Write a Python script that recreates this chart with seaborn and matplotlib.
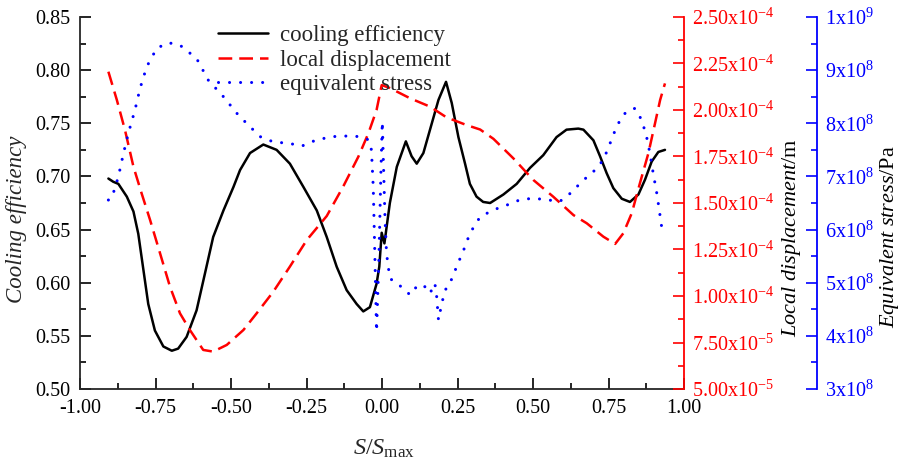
import numpy as np
import pandas as pd
import matplotlib
matplotlib.use("Agg")
import matplotlib.pyplot as plt
from matplotlib.ticker import MultipleLocator, FixedLocator, FixedFormatter
import seaborn as sns

# Normalised position along the surface, S/Smax
cool_s = [-0.906, -0.89, -0.873, -0.845, -0.823, -0.807, -0.79, -0.774, -0.752, -0.724,
          -0.696, -0.675, -0.647, -0.614, -0.586, -0.559, -0.525, -0.492, -0.47, -0.437,
          -0.393, -0.349, -0.305, -0.26, -0.216, -0.183, -0.15, -0.117, -0.084, -0.062,
          -0.04, -0.018, -0.009, -0.001, 0.008, 0.026, 0.049, 0.079, 0.098, 0.115,
          0.137, 0.165, 0.187, 0.212, 0.231, 0.253, 0.275, 0.291, 0.313, 0.335,
          0.358, 0.402, 0.446, 0.49, 0.534, 0.578, 0.611, 0.65, 0.667, 0.70,
          0.722, 0.744, 0.766, 0.794, 0.821, 0.849, 0.871, 0.893, 0.915, 0.937]
cooling_efficiency = [0.698, 0.695, 0.693, 0.681, 0.667, 0.646, 0.612, 0.580, 0.555, 0.540,
                      0.536, 0.538, 0.549, 0.574, 0.609, 0.643, 0.668, 0.690, 0.706, 0.722,
                      0.730, 0.725, 0.712, 0.690, 0.668, 0.643, 0.615, 0.593, 0.580, 0.573,
                      0.577, 0.599, 0.615, 0.647, 0.637, 0.675, 0.709, 0.733, 0.719, 0.712,
                      0.722, 0.750, 0.772, 0.789, 0.769, 0.737, 0.712, 0.693, 0.681, 0.676,
                      0.675, 0.683, 0.693, 0.708, 0.720, 0.737, 0.744, 0.745, 0.744, 0.734,
                      0.719, 0.703, 0.689, 0.679, 0.676, 0.683, 0.697, 0.714, 0.723, 0.725]

disp_s = [-0.906, -0.878, -0.851, -0.823, -0.796, -0.768, -0.735, -0.702, -0.669, -0.636,
          -0.592, -0.559, -0.514, -0.459, -0.415, -0.36, -0.305, -0.249, -0.183, -0.128,
          -0.078, -0.045, -0.018, -0.001, 0.026, 0.093, 0.159, 0.214, 0.28, 0.325,
          0.369, 0.435, 0.501, 0.567, 0.634, 0.678, 0.733, 0.772, 0.799, 0.827,
          0.854, 0.882, 0.904, 0.921, 0.937]
# local displacement in units of 1e-4 m
local_displacement_e4 = [2.206, 2.054, 1.892, 1.695, 1.552, 1.409, 1.230, 1.050, 0.907, 0.817,
                         0.710, 0.701, 0.737, 0.817, 0.907, 1.023, 1.158, 1.301, 1.43, 1.59,
                         1.75, 1.875, 2.0, 2.134, 2.118, 2.063, 2.018, 1.96, 1.919, 1.895,
                         1.845, 1.74, 1.624, 1.534, 1.435, 1.391, 1.319, 1.28, 1.337, 1.445,
                         1.606, 1.767, 1.928, 2.054, 2.143]

stress_s = [-0.906, -0.895, -0.873, -0.856, -0.84, -0.818, -0.801, -0.779, -0.746, -0.708,
            -0.669, -0.614, -0.575, -0.525, -0.481, -0.459, -0.404, -0.36, -0.305, -0.266,
            -0.216, -0.161, -0.117, -0.073, -0.045, -0.035, -0.029, -0.024, -0.018, -0.010,
            -0.004, 0.001, 0.005, 0.010, 0.015, 0.026, 0.049, 0.071, 0.093, 0.115,
            0.137, 0.159, 0.175, 0.181, 0.187, 0.198, 0.209, 0.225, 0.247, 0.275,
            0.291, 0.325, 0.369, 0.413, 0.457, 0.501, 0.545, 0.589, 0.623, 0.667,
            0.70, 0.733, 0.755, 0.777, 0.799, 0.821, 0.838, 0.86, 0.876, 0.887,
            0.898, 0.91, 0.918, 0.926, 0.931]
# equivalent stress in units of 1e8 Pa
equivalent_stress_e8 = [6.556, 6.588, 6.995, 7.435, 7.811, 8.25, 8.66, 9.065, 9.41, 9.517,
                        9.47, 9.22, 8.81, 8.50, 8.19, 8.06, 7.75, 7.65, 7.62, 7.57,
                        7.69, 7.75, 7.76, 7.75, 7.69, 7.50, 6.8, 5.6, 4.08, 5.5,
                        7.0, 8.03, 7.2, 6.2, 5.55, 5.08, 4.99, 4.89, 4.77, 4.93,
                        4.96, 4.80, 4.99, 4.74, 4.30, 4.61, 4.86, 4.99, 5.30, 5.68,
                        5.93, 6.24, 6.37, 6.46, 6.56, 6.59, 6.56, 6.53, 6.68, 6.93,
                        7.09, 7.31, 7.62, 7.94, 8.16, 8.26, 8.28, 8.06, 7.75, 7.44,
                        7.06, 6.68, 6.37, 6.05, 5.93]

x_ticks = [-1.0, -0.75, -0.5, -0.25, 0.0, 0.25, 0.5, 0.75, 1.0]
x_tick_labels = ["-1.00", "-0.75", "-0.50", "-0.25", "0.00", "0.25", "0.50", "0.75", "1.00"]
eff_ticks = [0.50, 0.55, 0.60, 0.65, 0.70, 0.75, 0.80, 0.85]
eff_tick_labels = ["0.50", "0.55", "0.60", "0.65", "0.70", "0.75", "0.80", "0.85"]
disp_ticks = [5.0e-5, 7.5e-5, 1.0e-4, 1.25e-4, 1.5e-4, 1.75e-4, 2.0e-4, 2.25e-4, 2.5e-4]
disp_tick_labels = [r"5.00x10$^{-5}$", r"7.50x10$^{-5}$", r"1.00x10$^{-4}$",
                    r"1.25x10$^{-4}$", r"1.50x10$^{-4}$", r"1.75x10$^{-4}$",
                    r"2.00x10$^{-4}$", r"2.25x10$^{-4}$", r"2.50x10$^{-4}$"]
stress_ticks = [3e8, 4e8, 5e8, 6e8, 7e8, 8e8, 9e8, 1e9]
stress_tick_labels = [r"3x10$^{8}$", r"4x10$^{8}$", r"5x10$^{8}$", r"6x10$^{8}$",
                      r"7x10$^{8}$", r"8x10$^{8}$", r"9x10$^{8}$", r"1x10$^{9}$"]

sns.set_style("ticks")
plt.rcParams["font.family"] = ["Liberation Serif", "DejaVu Serif"]
plt.rcParams["mathtext.fontset"] = "custom"
plt.rcParams["mathtext.rm"] = "Liberation Serif"
plt.rcParams["mathtext.it"] = "Liberation Serif:italic"
plt.rcParams["axes.unicode_minus"] = False

RED = "#ff0000"
BLUE = "#0000ff"
TICK_FS = 14.5
LABEL_FS = 16

df_cool = pd.DataFrame({"s": cool_s, "v": cooling_efficiency})
df_disp = pd.DataFrame({"s": disp_s, "v": np.array(local_displacement_e4) * 1e-4})
df_stress = pd.DataFrame({"s": stress_s, "v": np.array(equivalent_stress_e8) * 1e8})

fig = plt.figure(figsize=(9.05, 4.59), dpi=100)
ax = fig.add_axes([80 / 905, 1 - 389 / 459, 604 / 905, 372 / 459])
ax2 = ax.twinx()
ax3 = ax.twinx()

sns.lineplot(data=df_cool, x="s", y="v", ax=ax, sort=False, estimator=None,
             color="black", linewidth=1.8, label="cooling efficiency")
sns.lineplot(data=df_disp, x="s", y="v", ax=ax2, sort=False, estimator=None,
             color=RED, linewidth=1.8, linestyle=(0, (5.5, 2.8)), label="local displacement")
sns.lineplot(data=df_stress, x="s", y="v", ax=ax3, sort=False, estimator=None,
             color=BLUE, linewidth=2.2, linestyle=(0, (0.01, 3.6)),
             dash_capstyle="round", label="equivalent stress")

# Primary axis: cooling efficiency
ax.set_xlim(-1.0, 1.0)
ax.set_ylim(0.50, 0.85)
ax.xaxis.set_major_locator(FixedLocator(x_ticks))
ax.xaxis.set_major_formatter(FixedFormatter(x_tick_labels))
ax.xaxis.set_minor_locator(MultipleLocator(0.125))
ax.yaxis.set_major_locator(FixedLocator(eff_ticks))
ax.yaxis.set_major_formatter(FixedFormatter(eff_tick_labels))
ax.yaxis.set_minor_locator(MultipleLocator(0.025))
for side in ["top", "right"]:
    ax.spines[side].set_visible(False)
for side in ["left", "bottom"]:
    ax.spines[side].set_linewidth(1.3)
ax.tick_params(which="both", direction="in", width=1.2, labelsize=TICK_FS, colors="black")
ax.tick_params(which="major", length=8, pad=7)
ax.tick_params(which="minor", length=4.5)
ax.set_xlabel(r"$S/S_{\mathrm{max}}$", fontsize=LABEL_FS + 1.5)
ax.xaxis.set_label_coords(0.503, -0.13)
ax.set_ylabel("Cooling efficiency", fontsize=LABEL_FS + 0.5, style="italic")
ax.yaxis.set_label_coords(-0.088, 0.457)

# Second axis: local displacement
ax2.set_ylim(5.0e-5, 2.5e-4)
ax2.yaxis.set_major_locator(FixedLocator(disp_ticks))
ax2.yaxis.set_major_formatter(FixedFormatter(disp_tick_labels))
ax2.yaxis.set_minor_locator(MultipleLocator(1.25e-5))
for side in ["top", "left", "bottom"]:
    ax2.spines[side].set_visible(False)
ax2.spines["right"].set_color(RED)
ax2.spines["right"].set_linewidth(1.3)
ax2.tick_params(which="both", direction="in", width=1.2, color=RED,
                labelcolor=RED, labelsize=TICK_FS)
ax2.tick_params(which="major", length=8, pad=6)
ax2.tick_params(which="minor", length=4.5)
ax2.set_ylabel(r"$\mathit{Local\ displacement}$/m", fontsize=LABEL_FS, color="black")
ax2.yaxis.set_label_coords(1.159, 0.406)

# Third axis: equivalent stress
ax3.set_ylim(3e8, 1e9)
ax3.spines["right"].set_position(("axes", 1.22))
ax3.yaxis.set_major_locator(FixedLocator(stress_ticks))
ax3.yaxis.set_major_formatter(FixedFormatter(stress_tick_labels))
ax3.yaxis.set_minor_locator(MultipleLocator(5e7))
for side in ["top", "left", "bottom"]:
    ax3.spines[side].set_visible(False)
ax3.spines["right"].set_color(BLUE)
ax3.spines["right"].set_linewidth(1.3)
ax3.tick_params(which="both", direction="in", width=1.2, color=BLUE,
                labelcolor=BLUE, labelsize=TICK_FS)
ax3.tick_params(which="major", length=8, pad=6)
ax3.tick_params(which="minor", length=4.5)
ax3.set_ylabel(r"$\mathit{Equivalent\ stress}$/Pa", fontsize=LABEL_FS, color="black")
ax3.yaxis.set_label_coords(1.322, 0.41)

# Combined legend
handles, labels = [], []
for a in (ax, ax2, ax3):
    h, l = a.get_legend_handles_labels()
    handles += h
    labels += l
    if a.get_legend() is not None:
        a.get_legend().remove()
ax3.legend(handles, labels, loc="upper left", bbox_to_anchor=(0.2285, 0.978),
           frameon=False, fontsize=16.5, handlelength=2.2, handletextpad=0.5,
           labelspacing=0.15, borderpad=0, borderaxespad=0)

fig.savefig("out.png", dpi=100)
